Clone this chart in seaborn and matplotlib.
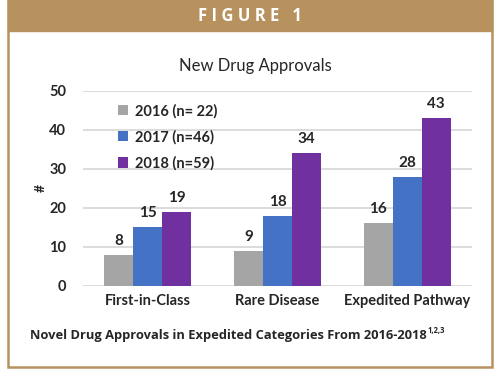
import pandas as pd
import matplotlib.pyplot as plt
import seaborn as sns
from matplotlib.patches import Rectangle

# Datos
categories = ['First-in-Class', 'Rare Disease', 'Expedited Pathway']
series = ['2016 (n= 22)', '2017 (n=46)', '2018 (n=59)']
values_2016 = [8, 9, 16]
values_2017 = [15, 18, 28]
values_2018 = [19, 34, 43]
colors = ['#a5a5a5', '#4472c4', '#7030a0']
y_ticks = [0, 10, 20, 30, 40, 50]

df = pd.DataFrame({
    'category': categories * 3,
    'series': [s for s in series for _ in categories],
    'value': values_2016 + values_2017 + values_2018,
})

sns.set_theme(style='white')
plt.rcParams['font.family'] = ['Lato', 'DejaVu Sans']

fig = plt.figure(figsize=(5, 3.74), dpi=100)
tan = '#b8925e'

# marco y cabecera
fig.patches.append(Rectangle((8 / 500, 1 - 367 / 374), 484 / 500, 367 / 374,
                             transform=fig.transFigure, fill=False,
                             edgecolor=tan, lw=1.8, zorder=0))
fig.patches.append(Rectangle((8 / 500, 1 - 31 / 374), 484 / 500, 31 / 374,
                             transform=fig.transFigure, facecolor=tan,
                             edgecolor=tan, zorder=1))
fig.text(0.5, 1 - 16 / 374, 'F I G U R E   1', color='white', fontsize=12,
         fontweight='bold', ha='center', va='center', family=['Open Sans', 'DejaVu Sans'])

ax = fig.add_axes([83 / 500, 1 - 285.7 / 374, 389 / 500, 195 / 374])
sns.barplot(data=df, x='category', y='value', hue='series', palette=colors,
            width=0.67, gap=0, ax=ax, saturation=1, edgecolor='none')

ax.set_ylim(0, 50)
ax.set_yticks(y_ticks)
ax.set_xlim(-0.5, 2.5)
ax.yaxis.grid(True, color='#d9d9d9', lw=1.3)
ax.set_axisbelow(True)
for s in ax.spines.values():
    s.set_visible(False)
ax.tick_params(axis='both', length=0)
ax.tick_params(axis='y', pad=12, labelsize=10.5)
ax.tick_params(axis='x', pad=6, labelsize=10.5)
for lbl in ax.get_xticklabels() + ax.get_yticklabels():
    lbl.set_fontweight('bold')
ax.set_xlabel('')
ax.set_ylabel('#', fontsize=10, fontweight='bold', labelpad=2)

for cont in ax.containers:
    ax.bar_label(cont, padding=5, fontsize=11, fontweight='bold')

leg = ax.legend(loc='upper left', bbox_to_anchor=(0.055, 1.0), frameon=False,
                handlelength=0.7, handleheight=0.7, handletextpad=0.5,
                labelspacing=0.8, prop={'weight': 'bold', 'size': 10.5})

fig.text(255 / 500, 1 - 66 / 374, 'New Drug Approvals', fontsize=12,
         ha='center', va='center')

cap = fig.text(30 / 500, 1 - 335 / 374,
               'Novel Drug Approvals in Expedited Categories From 2016-2018',
               fontsize=9.3, fontweight='bold', ha='left', va='center',
               family=['Open Sans', 'DejaVu Sans'])
fig.canvas.draw()
bb = cap.get_window_extent().transformed(fig.transFigure.inverted())
fig.text(bb.x1 + 0.002, 1 - 331 / 374, '1,2,3', fontsize=5.5, fontweight='bold',
         ha='left', va='center', family=['Open Sans', 'DejaVu Sans'])

fig.savefig('out.png', dpi=100)
